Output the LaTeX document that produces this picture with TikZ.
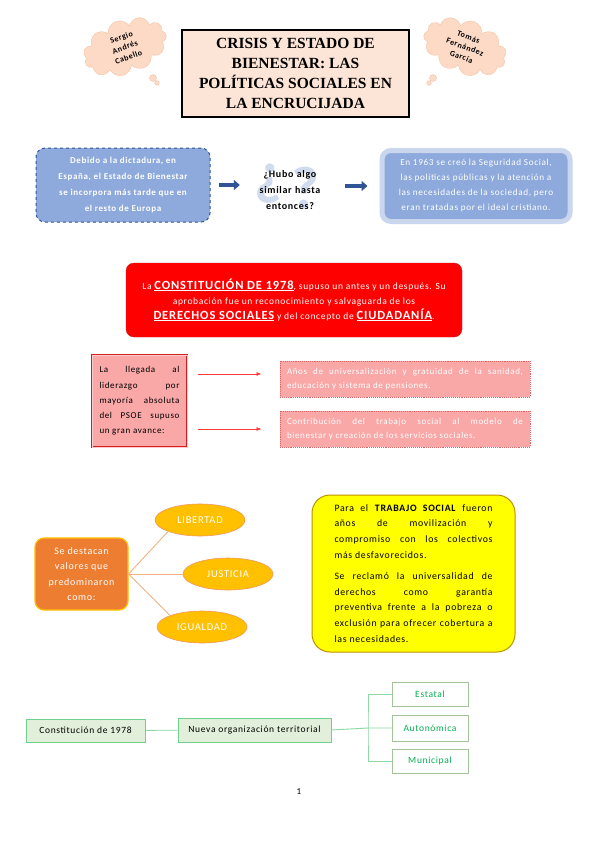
\documentclass[tikz,border=0pt]{standalone}
\usepackage{fontspec}
\setmainfont{Carlito}[LetterSpace=7]
\newfontfamily\titlefont{Liberation Serif}
\usetikzlibrary{positioning,arrows.meta,calc,shapes.geometric,shapes.symbols}
\definecolor{cPeach}{HTML}{FCE4D6}
\definecolor{cCloud}{HTML}{FCDAC6}
\definecolor{cCloudLine}{HTML}{F6C3A5}
\definecolor{cBlue}{HTML}{8EA9DB}
\definecolor{cBlueDark}{HTML}{2F5597}
\definecolor{cBlueGlow}{HTML}{C9D6EE}
\definecolor{cQmark}{HTML}{D0DBEE}
\definecolor{cRed}{HTML}{FF0000}
\definecolor{cRedLine}{HTML}{D02020}
\definecolor{cPink}{HTML}{FAA7A7}
\definecolor{cArrowRed}{HTML}{FF3B3B}
\definecolor{cOrange}{HTML}{ED7D31}
\definecolor{cGold}{HTML}{FFC000}
\definecolor{cOrangeLine}{HTML}{F4B183}
\definecolor{cYellow}{HTML}{FFFF00}
\definecolor{cYellowLine}{HTML}{BF9000}
\definecolor{cGreenFill}{HTML}{E2EFDA}
\definecolor{cGreenLine}{HTML}{6DD08C}
\definecolor{cGreenText}{HTML}{00B050}
\definecolor{cGreenGrey}{HTML}{A3C49A}

\begin{document}
\begin{tikzpicture}[x=1pt,y=-1pt,font=\fontsize{9}{15}\selectfont,
    cloudbox/.style={cloud,cloud puffs=11,cloud ignores aspect,draw=cCloudLine,fill=cCloud,
                     minimum width=86,minimum height=54,align=center,inner sep=1pt,
                     font=\fontsize{8}{10.5}\selectfont\bfseries},
    titlebox/.style={draw=black,line width=1.6pt,fill=cPeach,minimum width=227,minimum height=87,
                     align=center,font=\titlefont\fontsize{15.5}{20}\selectfont\bfseries},
    bluebox/.style={fill=cBlue,rounded corners=9pt,text=white,align=center,inner sep=0pt},
    bluearr/.style={-{Triangle[length=6pt,width=10pt]},cBlueDark,line width=3.5pt},
    redarr/.style={-{Latex[length=5pt,width=4pt]},cArrowRed,line width=0.8pt},
    pinkbox/.style={fill=cPink,draw=cRedLine!70,densely dotted,line width=0.9pt,text=white,
                    align=justify,minimum width=250,minimum height=36,text width=236,
                    font=\fontsize{9}{13.5}\selectfont},
    valellipse/.style={ellipse,fill=cGold,draw=cOrange!80,line width=0.6pt,text=white,
                       minimum width=90,minimum height=32,inner sep=0pt,font=\fontsize{10.5}{12}\selectfont},
    valline/.style={cOrangeLine,line width=0.9pt},
    greenbox/.style={fill=cGreenFill,draw=cGreenLine,line width=0.9pt,minimum height=23,
                     font=\fontsize{9.5}{11}\selectfont},
    leafbox/.style={fill=white,draw=cGreenGrey,line width=0.9pt,text=cGreenText,minimum width=76,
                    minimum height=24,font=\fontsize{9.5}{11}\selectfont},
    treeline/.style={cGreenLine!80,line width=0.9pt}]
  \path[fill=white,use as bounding box] (0,0) rectangle (599,848);

  % authors and title
  \node[cloudbox,rotate=20] (autorA) at (125,47) {Sergio\\Andrés\\Cabello};
  \draw[cCloudLine,fill=cCloud] (153,78) circle (3.5) (157,83) circle (2.3);
  \node[cloudbox,rotate=-20] (autorB) at (465,47) {Tomás\\Fernández\\García};
  \draw[cCloudLine,fill=cCloud] (433,78) circle (3.5) (429,83) circle (2.3);
  \node[titlebox] (titulo) at (295.5,73.5) {CRISIS Y ESTADO DE\\BIENESTAR: LAS\\POLÍTICAS SOCIALES EN\\LA ENCRUCIJADA};

  % dictatorship row
  \node[bluebox,draw=cBlueDark,dashed,line width=1pt,minimum width=174,minimum height=74,
        font=\fontsize{9}{16}\selectfont\bfseries] (dictadura) at (123,185)
    {Debido a la dictadura, en\\España, el Estado de Bienestar\\se incorpora más tarde que en\\el resto de Europa};
  \node[text=cQmark,font=\fontsize{60}{60}\selectfont\bfseries] (qinv) at (268,184) {¿};
  \node[text=cQmark,font=\fontsize{60}{60}\selectfont\bfseries] (qmk) at (305,188) {?};
  \node[text width=74,align=center,inner sep=3pt,font=\fontsize{10}{16}\selectfont\bfseries] (pregunta) at (290,190)
    {¿Hubo algo\\similar hasta\\entonces?};
  \node[bluebox,draw=cBlueGlow,line width=5pt,minimum width=188,minimum height=71,
        font=\fontsize{9.2}{15}\selectfont] (seguridad) at (476,186)
    {En 1963 se creó la Seguridad Social,\\las políticas públicas y la atención a\\las necesidades de la sociedad, pero\\eran tratadas por el ideal cristiano.};
  \draw[bluearr,shorten <=8pt,shorten >=10pt] (dictadura.east) -- (pregunta.west |- dictadura.east);
  \draw[bluearr,shorten <=15pt,shorten >=12pt] (pregunta.east |- seguridad.west) -- (seguridad.west);

  % constitution
  \node[fill=cRed,draw=cRedLine,rounded corners=8pt,minimum width=336,minimum height=74,text=white,
        align=center,font=\fontsize{9.5}{15}\selectfont] (constitucion) at (294,300)
    {La {\fontsize{12.5}{15}\selectfont\bfseries\underline{CONSTITUCIÓN DE 1978}}, supuso un antes y un después. Su\\
     aprobación fue un reconocimiento y salvaguarda de los\\
     {\fontsize{12.5}{15}\selectfont\bfseries\underline{DERECHOS SOCIALES}} y del concepto de {\fontsize{12.5}{15}\selectfont\bfseries\underline{CIUDADANÍA}}.};

  \node[fill=cPink,draw=cRedLine,double=cPink!60,double distance=0.6pt,line width=0.7pt,minimum width=95,
        minimum height=92,text width=80,align=justify,font=\fontsize{9}{15.3}\selectfont] (liderazgo) at (139.5,401)
    {La llegada al\linebreak liderazgo por\linebreak mayoría absoluta\linebreak del PSOE supuso\linebreak un gran avance:};
  \node[pinkbox] (universal) at (405,379)
    {Años de universalización y gratuidad de la sanidad,\linebreak educación y sistema de pensiones.};
  \node[pinkbox] (contribucion) at (405,429)
    {Contribución del trabajo social al modelo de\linebreak bienestar y creación de los servicios sociales.};
  \draw[redarr,shorten <=11pt,shorten >=18pt] ($(liderazgo.east |- universal.west)+(0,-5)$) -- ($(universal.west)+(0,-5)$);
  \draw[redarr,shorten <=11pt,shorten >=18pt] (liderazgo.east |- contribucion.west) -- (contribucion.west);

  % values
  \node[fill=cOrange,draw=cGold,line width=1.2pt,rounded corners=9pt,minimum width=93,minimum height=72,
        text=white,align=center,font=\fontsize{10}{15.3}\selectfont] (valores) at (81.5,574)
    {Se destacan\\valores que\\predominaron\\como:};
  \node[valellipse] (libertad) at (200,520) {LIBERTAD};
  \node[valellipse] (justicia) at (228,574) {JUSTICIA};
  \node[valellipse] (igualdad) at (202,627) {IGUALDAD};
  \draw[valline] (valores.east) -- (libertad.south west);
  \draw[valline] (valores.east) -- (justicia.west);
  \draw[valline] (valores.east) -- (igualdad.north west);

  \node[fill=cYellow,draw=cYellowLine,line width=1pt,rounded corners=18pt,minimum width=203,minimum height=157,
        text width=158,align=justify,font=\fontsize{9.8}{15.8}\selectfont] (trabajo) at (413.5,573.5)
    {Para el \textbf{TRABAJO SOCIAL} fueron\linebreak años de movilización y\linebreak compromiso con los colectivos\linebreak más desfavorecidos.\par\vspace{5pt}
     Se reclamó la universalidad de\linebreak derechos como garantía\linebreak preventiva frente a la pobreza o\linebreak exclusión para ofrecer cobertura a\linebreak las necesidades.};

  % territorial organisation
  \node[greenbox,minimum width=119] (c1978) at (85.5,730.5) {Constitución de 1978};
  \node[greenbox,minimum width=153,minimum height=24] (organizacion) at (254.5,730) {Nueva organización territorial};
  \node[leafbox] (estatal) at (430,694) {Estatal};
  \node[leafbox,minimum height=26] (autonomica) at (430,728) {Autonómica};
  \node[leafbox] (municipal) at (430,761) {Municipal};
  \coordinate (rama) at (368,730);
  \draw[treeline] (c1978) -- (organizacion);
  \draw[treeline] (organizacion.east) -- (rama |- autonomica) -- (autonomica.west);
  \draw[treeline] (estatal.west) -| (rama) |- (municipal.west);

  \node (pagina) at (299,792) {1};
\end{tikzpicture}
\end{document}
